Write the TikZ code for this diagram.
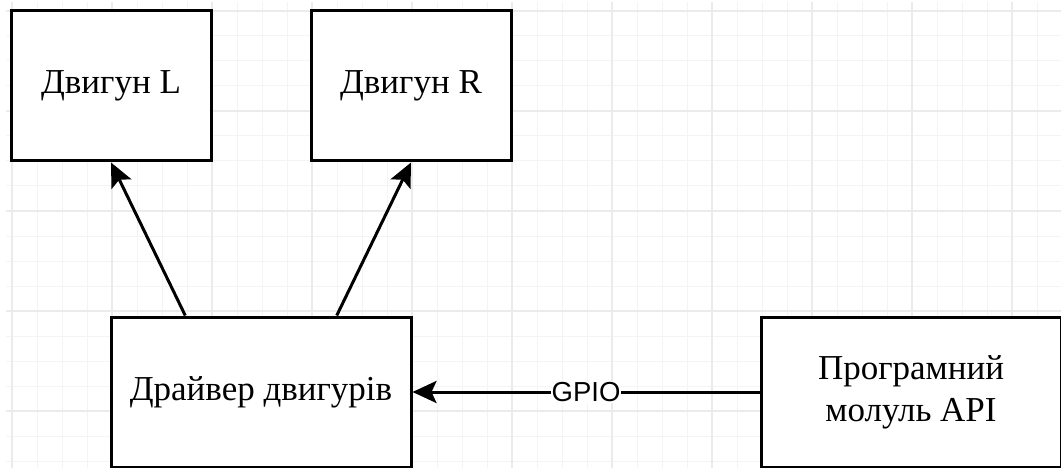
\documentclass[tikz,border=0pt]{standalone}
\usepackage{fontspec}
\setmainfont{Liberation Serif}
\setsansfont{Liberation Sans}
\usetikzlibrary{arrows.meta,calc}
\begin{document}
\begin{tikzpicture}[x=1pt, y=-1pt]
	\tikzstyle{block} = [ draw, rectangle, line width=3pt, fill=white, minimum width=300pt, minimum height=150pt, inner sep=0pt, align=center, font={\fontsize{35}{42}\selectfont}];
	\tikzstyle{motor} = [ block, minimum width=200pt];
	\tikzstyle{point} = [ -{Stealth[length=24pt, width=22pt, inset=5pt]}, line width=3pt];
	\tikzstyle{bus} = [ fill=white, inner sep=1pt, font={\sffamily\fontsize{27.5}{33}\selectfont}];
	\tikzstyle{minor} = [ gray!9, line width=1pt];
	\tikzstyle{major} = [ gray!16, line width=1.5pt];

	\useasboundingbox (0,0) rectangle (1061,468);

	\foreach \x in {12,37,...,1061} \draw[minor] (\x,2) -- (\x,468);
	\foreach \y in {11,36,...,468} \draw[minor] (6,\y) -- (1061,\y);
	\foreach \x in {12,112,...,1061} \draw[major] (\x,2) -- (\x,468);
	\foreach \y in {11,111,...,468} \draw[major] (6,\y) -- (1061,\y);

	\node[motor] (motL) at (111,86) {Двигун L};
	\node[motor] (motR) at (411,86) {Двигун R};
	\node[block] (drv) at (261,392) {Драйвер двигурів};
	\node[block] (api) at (911,392) {Програмний\\молуль API};

	\draw[point] ($(drv.north west)!0.25!(drv.north east)$) -- (motL.south);
	\draw[point] ($(drv.north west)!0.75!(drv.north east)$) -- (motR.south);
	\draw[point] (api.west) -- node[bus] {GPIO} (drv.east);
\end{tikzpicture}
\end{document}
